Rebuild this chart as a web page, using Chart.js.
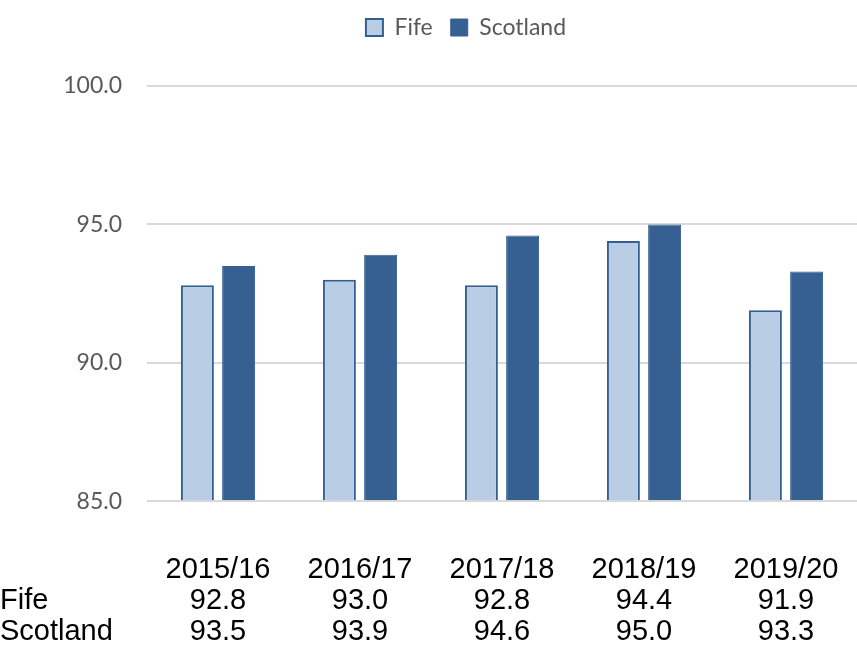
<!DOCTYPE html>
<html>
<head>
<meta charset="utf-8">
<script src="https://cdn.jsdelivr.net/npm/chart.js@4/dist/chart.umd.min.js"></script>
<style>
  html, body { margin: 0; padding: 0; background: #fff; }
  #wrap { width: 857px; height: 651px; }
</style>
</head>
<body>
<div id="wrap"><canvas id="rateChart" width="857" height="651"></canvas></div>
<script>
const years = ['2015/16', '2016/17', '2017/18', '2018/19', '2019/20'];
const fife = [92.8, 93.0, 92.8, 94.4, 91.9];
const scotland = [93.5, 93.9, 94.6, 95.0, 93.3];
const yTicks = [85, 90, 95, 100];

// push the plot down below the legend and nudge the legend right
const legendGap = {
  id: 'legendGap',
  beforeInit(chart) {
    const fit = chart.legend.fit;
    chart.legend.fit = function () {
      fit.bind(chart.legend)();
      this.height += 37;
    };
  },
  afterLayout(chart) {
    chart.legend.left += 34;
    chart.legend.right += 34;
  }
};

// data table under the category labels
const dataTable = {
  id: 'dataTable',
  afterDraw(chart) {
    const ctx = chart.ctx;
    const x = chart.scales.x;
    const base = chart.chartArea.bottom;
    const rows = [['Fife', fife], ['Scotland', scotland]];
    ctx.save();
    ctx.font = '29px "Liberation Sans", Arial, sans-serif';
    ctx.fillStyle = '#000';
    ctx.textBaseline = 'middle';
    rows.forEach(function (row, r) {
      const y = base + 100 + r * 31;
      ctx.textAlign = 'left';
      ctx.fillText(row[0], 0, y);
      ctx.textAlign = 'center';
      row[1].forEach(function (v, i) {
        ctx.fillText(v.toFixed(1), x.getPixelForValue(i), y);
      });
    });
    ctx.restore();
  }
};

document.addEventListener('DOMContentLoaded', function () {
  const ctx = document.getElementById('rateChart').getContext('2d');
  new Chart(ctx, {
    type: 'bar',
    data: {
      labels: years,
      datasets: [{
        label: 'Fife',
        data: fife,
        base: 85,
        backgroundColor: '#B9CDE5',
        borderColor: '#365F91',
        borderWidth: 2,
        categoryPercentage: 0.58,
        barPercentage: 0.8
      }, {
        label: 'Scotland',
        data: scotland,
        base: 85,
        backgroundColor: '#376092',
        borderColor: '#376092',
        borderWidth: 1,
        categoryPercentage: 0.58,
        barPercentage: 0.8
      }]
    },
    options: {
      responsive: false,
      animation: false,
      layout: { padding: { top: -2, bottom: 13, right: -7, left: 0 } },
      plugins: {
        legend: {
          display: true,
          position: 'top',
          labels: {
            boxWidth: 17,
            boxHeight: 17,
            padding: 18,
            color: '#595959',
            font: { family: 'Lato, "Open Sans", sans-serif', size: 23 }
          }
        },
        tooltip: { enabled: false }
      },
      scales: {
        y: {
          min: 85,
          max: 100,
          afterFit(scale) { scale.width = 147; },
          afterBuildTicks(scale) { scale.ticks = yTicks.map(v => ({ value: v })); },
          border: { display: false },
          grid: { color: '#D9D9D9', lineWidth: 2, drawTicks: false },
          ticks: {
            padding: 25,
            color: '#595959',
            font: { family: 'Lato, "Open Sans", sans-serif', size: 23 },
            callback: v => Number(v).toFixed(1)
          }
        },
        x: {
          border: { display: false },
          grid: { display: false, drawTicks: false },
          afterFit(scale) { scale.paddingLeft = 0; scale.paddingRight = 0; },
          ticks: {
            padding: 51,
            maxRotation: 0,
            color: '#000',
            font: { family: '"Liberation Sans", Arial, sans-serif', size: 29 }
          }
        }
      }
    },
    plugins: [legendGap, dataTable]
  });
});
</script>
</body>
</html>
